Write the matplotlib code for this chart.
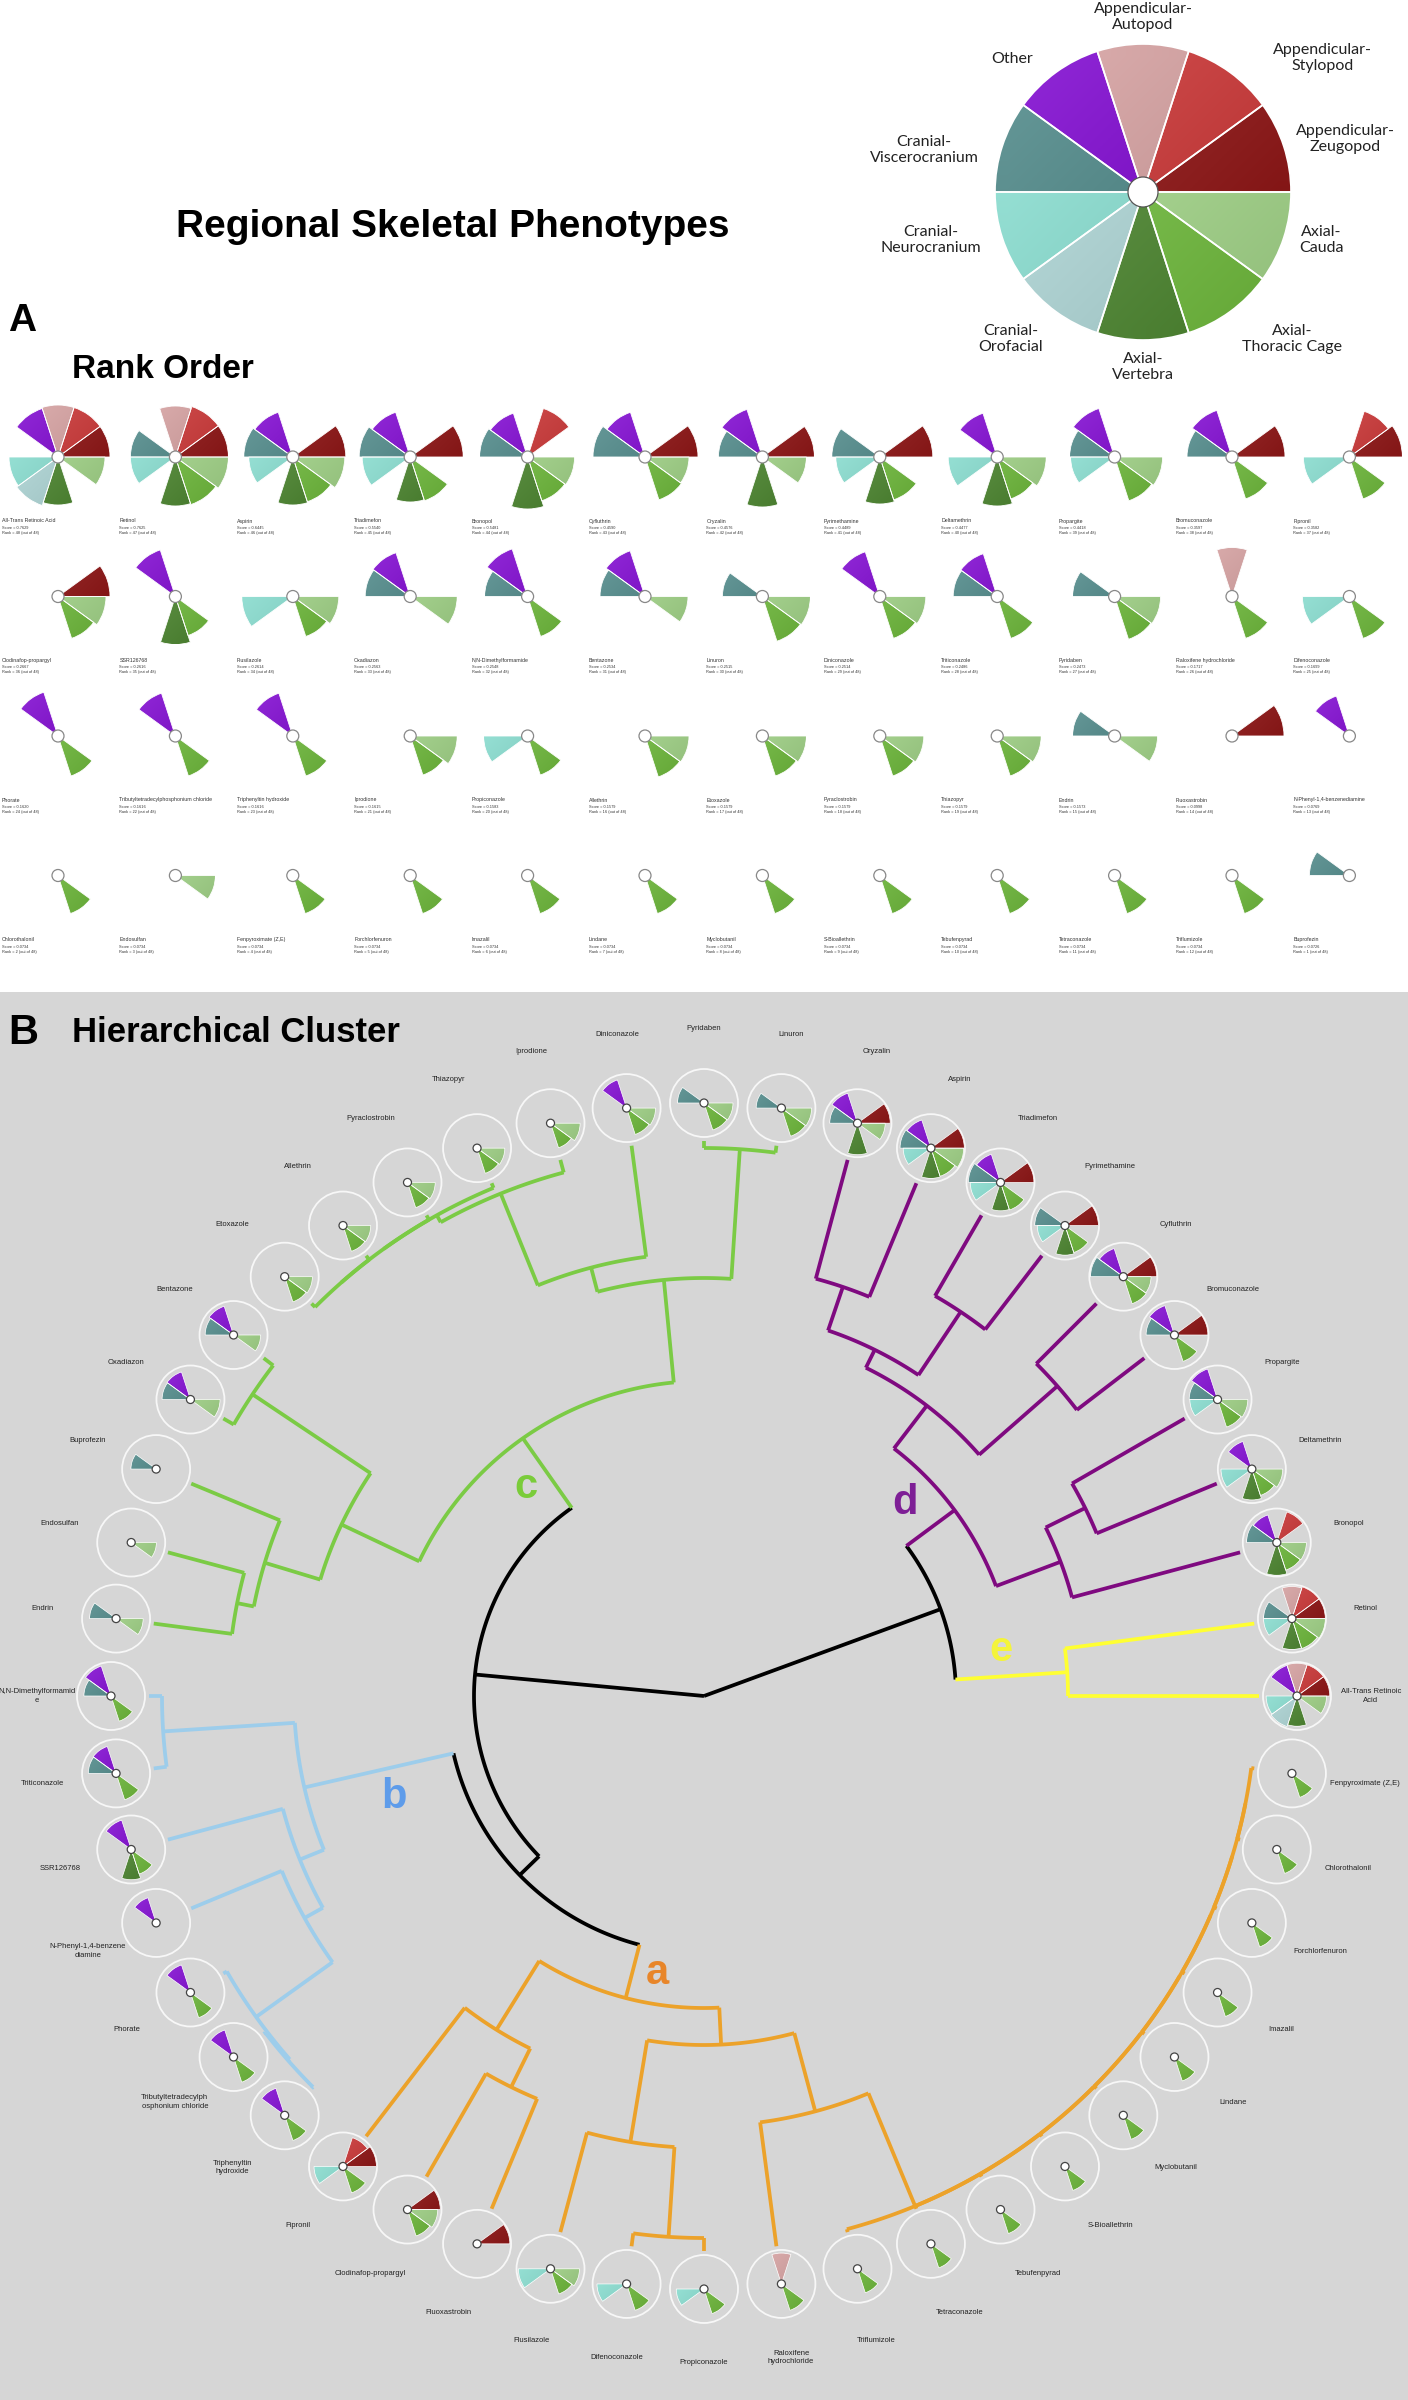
import numpy as np
import matplotlib
matplotlib.use('Agg')
import matplotlib.pyplot as plt
from matplotlib.patches import Wedge, Circle, Rectangle
from matplotlib.colors import to_rgb

plt.rcParams['font.family'] = ['Liberation Sans', 'DejaVu Sans']

# ---- skeletal regions (legend pie, counter-clockwise from 3 o'clock) ----
regions = ['Appendicular-\nZeugopod', 'Appendicular-\nStylopod', 'Appendicular-\nAutopod',
           'Other', 'Cranial-\nViscerocranium', 'Cranial-\nNeurocranium', 'Cranial-\nOrofacial',
           'Axial-\nVertebra', 'Axial-\nThoracic Cage', 'Axial-\nCauda']
region_colors = ['#8E0E0E', '#CD3131', '#D7A0A0', '#7C00D0', '#4A8686',
                 '#8BE3D5', '#B3DCDC', '#4E8A30', '#74C23F', '#A9DD8E']

# ---- panel A: rank order (row major, 4 rows x 12) ----
chemicals = ['All-Trans Retinoic Acid', 'Retinol', 'Aspirin', 'Triadimefon', 'Bronopol', 'Cyfluthrin',
             'Oryzalin', 'Pyrimethamine', 'Deltamethrin', 'Propargite', 'Bromuconazole', 'Fipronil',
             'Clodinafop-propargyl', 'SSR126768', 'Flusilazole', 'Oxadiazon', 'N,N-Dimethylformamide',
             'Bentazone', 'Linuron', 'Diniconazole', 'Triticonazole', 'Pyridaben',
             'Raloxifene hydrochloride', 'Difenoconazole',
             'Phorate', 'Tributyltetradecylphosphonium chloride', 'Triphenyltin hydroxide', 'Iprodione',
             'Propiconazole', 'Allethrin', 'Etoxazole', 'Pyraclostrobin', 'Thiazopyr', 'Endrin',
             'Fluoxastrobin', 'N-Phenyl-1,4-benzenediamine',
             'Chlorothalonil', 'Endosulfan', 'Fenpyroximate (Z,E)', 'Forchlorfenuron', 'Imazalil',
             'Lindane', 'Myclobutanil', 'S-Bioallethrin', 'Tebufenpyrad', 'Tetraconazole',
             'Triflumizole', 'Buprofezin']
scores = [0.7629, 0.7625, 0.6445, 0.5540, 0.5481, 0.4590, 0.4576, 0.4489, 0.4477, 0.4418, 0.3597, 0.3582,
          0.2667, 0.2616, 0.2614, 0.2563, 0.2548, 0.2534, 0.2515, 0.2514, 0.2486, 0.2473, 0.1717, 0.1699,
          0.1620, 0.1616, 0.1616, 0.1615, 0.1583, 0.1579, 0.1579, 0.1579, 0.1579, 0.1573, 0.0998, 0.0769,
          0.0734, 0.0734, 0.0734, 0.0734, 0.0734, 0.0734, 0.0734, 0.0734, 0.0734, 0.0734, 0.0734, 0.0726]
ranks = [48, 47, 46, 45, 44, 43, 42, 41, 40, 39, 38, 37,
         36, 35, 34, 33, 32, 31, 30, 29, 28, 27, 26, 25,
         24, 22, 23, 21, 20, 16, 17, 18, 19, 15, 14, 13,
         2, 3, 4, 5, 6, 7, 8, 9, 10, 11, 12, 1]

# wedge lengths per region (same order as chemicals)
zeugopod = [52, 53, 53, 53, 0, 53, 52, 53, 0, 0, 53, 53,
            52, 0, 0, 0, 0, 0, 0, 0, 0, 0, 0, 0,
            0, 0, 0, 0, 0, 0, 0, 0, 0, 0, 52, 0,
            0, 0, 0, 0, 0, 0, 0, 0, 0, 0, 0, 0]
stylopod = [52, 53, 0, 0, 51, 0, 0, 0, 0, 0, 0, 48,
            0, 0, 0, 0, 0, 0, 0, 0, 0, 0, 0, 0,
            0, 0, 0, 0, 0, 0, 0, 0, 0, 0, 0, 0,
            0, 0, 0, 0, 0, 0, 0, 0, 0, 0, 0, 0]
autopod = [52, 51, 0, 0, 0, 0, 0, 0, 0, 0, 0, 0,
           0, 0, 0, 0, 0, 0, 0, 0, 0, 0, 49, 0,
           0, 0, 0, 0, 0, 0, 0, 0, 0, 0, 0, 0,
           0, 0, 0, 0, 0, 0, 0, 0, 0, 0, 0, 0]
other = [51, 0, 47, 47, 46, 47, 50, 0, 46, 51, 49, 0,
         0, 49, 0, 46, 50, 48, 0, 47, 45, 0, 0, 0,
         46, 45, 45, 0, 0, 0, 0, 0, 0, 0, 0, 42,
         0, 0, 0, 0, 0, 0, 0, 0, 0, 0, 0, 0]
viscerocranium = [0, 45, 49, 51, 48, 52, 44, 48, 0, 45, 45, 0,
                  0, 0, 0, 45, 43, 45, 40, 0, 44, 42, 0, 0,
                  0, 0, 0, 0, 0, 0, 0, 0, 0, 42, 0, 0,
                  0, 0, 0, 0, 0, 0, 0, 0, 0, 0, 0, 40]
neurocranium = [49, 45, 44, 48, 0, 0, 0, 44, 49, 44, 0, 46,
                0, 0, 51, 0, 0, 0, 0, 0, 0, 0, 0, 47,
                0, 0, 0, 0, 44, 0, 0, 0, 0, 0, 0, 0,
                0, 0, 0, 0, 0, 0, 0, 0, 0, 0, 0, 0]
orofacial = [51, 0, 0, 0, 0, 0, 0, 0, 0, 0, 0, 0,
             0, 0, 0, 0, 0, 0, 0, 0, 0, 0, 0, 0,
             0, 0, 0, 0, 0, 0, 0, 0, 0, 0, 0, 0,
             0, 0, 0, 0, 0, 0, 0, 0, 0, 0, 0, 0]
vertebra = [48, 49, 48, 45, 52, 0, 50, 47, 49, 0, 0, 0,
            0, 48, 0, 0, 0, 0, 0, 0, 0, 0, 0, 0,
            0, 0, 0, 0, 0, 0, 0, 0, 0, 0, 0, 0,
            0, 0, 0, 0, 0, 0, 0, 0, 0, 0, 0, 0]
thoracic = [0, 50, 47, 46, 46, 45, 0, 45, 44, 46, 44, 44,
            44, 41, 42, 0, 42, 0, 47, 44, 44, 45, 44, 44,
            42, 42, 42, 41, 41, 43, 42, 42, 42, 0, 0, 0,
            40, 0, 40, 40, 40, 40, 40, 40, 40, 40, 40, 0]
cauda = [47, 53, 52, 0, 47, 44, 44, 0, 49, 48, 0, 0,
         48, 0, 46, 47, 0, 43, 48, 46, 0, 46, 0, 0,
         0, 0, 0, 47, 0, 44, 44, 44, 44, 43, 0, 0,
         0, 40, 0, 0, 0, 0, 0, 0, 0, 0, 0, 0]

# ---- panel B: leaf order (clockwise, starting at Oryzalin) and merges ----
dendro_order = ['Oryzalin', 'Aspirin', 'Triadimefon', 'Pyrimethamine', 'Cyfluthrin', 'Bromuconazole',
                'Propargite', 'Deltamethrin', 'Bronopol', 'Retinol', 'All-Trans Retinoic Acid',
                'Fenpyroximate (Z,E)', 'Chlorothalonil', 'Forchlorfenuron', 'Imazalil', 'Lindane',
                'Myclobutanil', 'S-Bioallethrin', 'Tebufenpyrad', 'Tetraconazole', 'Triflumizole',
                'Raloxifene hydrochloride', 'Propiconazole', 'Difenoconazole', 'Flusilazole',
                'Fluoxastrobin', 'Clodinafop-propargyl', 'Fipronil', 'Triphenyltin hydroxide',
                'Tributyltetradecylphosphonium chloride', 'Phorate', 'N-Phenyl-1,4-benzenediamine',
                'SSR126768', 'Triticonazole', 'N,N-Dimethylformamide', 'Endrin', 'Endosulfan',
                'Buprofezin', 'Oxadiazon', 'Bentazone', 'Etoxazole', 'Allethrin', 'Pyraclostrobin',
                'Thiazopyr', 'Iprodione', 'Diniconazole', 'Pyridaben', 'Linuron']
dendro_labels = {'N,N-Dimethylformamide': 'N,N-Dimethylformamid\ne',
                 'Tributyltetradecylphosphonium chloride': 'Tributyltetradecylph\nosphonium chloride',
                 'Triphenyltin hydroxide': 'Triphenyltin\nhydroxide',
                 'N-Phenyl-1,4-benzenediamine': 'N-Phenyl-1,4-benzene\ndiamine',
                 'All-Trans Retinoic Acid': 'All-Trans Retinoic\nAcid',
                 'Raloxifene hydrochloride': 'Raloxifene\nhydrochloride'}

# (node, child, child, merge radius, cluster)
merges = [
    ('e', 'Retinol', 'All-Trans Retinoic Acid', 364, 'e'),
    ('d1', 'Oryzalin', 'Aspirin', 432, 'd'),
    ('d2', 'Triadimefon', 'Pyrimethamine', 462, 'd'),
    ('d3', 'd1', 'd2', 386, 'd'),
    ('d4', 'Cyfluthrin', 'Bromuconazole', 470, 'd'),
    ('d5', 'd3', 'd4', 366, 'd'),
    ('d6', 'Propargite', 'Deltamethrin', 425, 'd'),
    ('d7', 'd6', 'Bronopol', 381, 'd'),
    ('d', 'd5', 'd7', 312, 'd'),
    ('a1', 'Fenpyroximate (Z,E)', 'Chlorothalonil', 552, 'a'),
    ('a2', 'a1', 'Forchlorfenuron', 552, 'a'),
    ('a3', 'a2', 'Imazalil', 552, 'a'),
    ('a4', 'a3', 'Lindane', 552, 'a'),
    ('a5', 'a4', 'Myclobutanil', 552, 'a'),
    ('a6', 'a5', 'S-Bioallethrin', 552, 'a'),
    ('a7', 'a6', 'Tebufenpyrad', 552, 'a'),
    ('a8', 'a7', 'Tetraconazole', 552, 'a'),
    ('a9', 'a8', 'Triflumizole', 552, 'a'),
    ('a10', 'a9', 'Raloxifene hydrochloride', 430, 'a'),
    ('a11', 'Propiconazole', 'Difenoconazole', 542, 'a'),
    ('a12', 'a11', 'Flusilazole', 452, 'a'),
    ('a13', 'a10', 'a12', 349, 'a'),
    ('a14', 'Fluoxastrobin', 'Clodinafop-propargyl', 436, 'a'),
    ('a15', 'a14', 'Fipronil', 393, 'a'),
    ('a', 'a13', 'a15', 312, 'a'),
    ('b1', 'Triphenyltin hydroxide', 'Tributyltetradecylphosphonium chloride', 553, 'b'),
    ('b2', 'b1', 'Phorate', 551, 'b'),
    ('b3', 'b2', 'N-Phenyl-1,4-benzenediamine', 457, 'b'),
    ('b4', 'b3', 'SSR126768', 436, 'b'),
    ('b5', 'Triticonazole', 'N,N-Dimethylformamide', 542, 'b'),
    ('b', 'b4', 'b5', 410, 'b'),
    ('c1', 'Endrin', 'Endosulfan', 476, 'c'),
    ('c2', 'c1', 'Buprofezin', 459, 'c'),
    ('c3', 'Oxadiazon', 'Bentazone', 543, 'c'),
    ('c4', 'c2', 'c3', 401, 'c'),
    ('c5', 'Etoxazole', 'Allethrin', 550, 'c'),
    ('c6', 'c5', 'Pyraclostrobin', 550, 'c'),
    ('c7', 'c6', 'Thiazopyr', 550, 'c'),
    ('c8', 'c7', 'Iprodione', 542, 'c'),
    ('c9', 'c8', 'Diniconazole', 443, 'c'),
    ('c10', 'Pyridaben', 'Linuron', 548, 'c'),
    ('c11', 'c9', 'c10', 418, 'c'),
    ('c', 'c4', 'c11', 315, 'c'),
    ('X', 'b', 'a', 257, 'root'),
    ('L', 'c', 'X', 230, 'root'),
    ('R', 'd', 'e', 252, 'root'),
    ('root', 'L', 'R', 0, 'root'),
]
line_colors = {'a': '#ECA22A', 'b': '#9DCDEB', 'c': '#7BCB45', 'd': '#7F0A80', 'e': '#FFFF33', 'root': 'black'}
letter_colors = {'a': '#E8862A', 'b': '#5E9CEA', 'c': '#7ACC3A', 'd': '#7E1F96', 'e': '#F4F43A'}
letter_pos = {'a': (657, 1973), 'b': (394, 1797), 'c': (526, 1487), 'd': (905, 1503), 'e': (1001, 1650)}

profiles = np.array([zeugopod, stylopod, autopod, other, viscerocranium, neurocranium,
                     orofacial, vertebra, thoracic, cauda], dtype=float).T


def shade_grid(col, n=12):
    # light at top-left, darker toward bottom-right
    base = np.array(to_rgb(col))
    light = base + (1 - base) * 0.16
    dark = base * 0.86
    t = (np.linspace(0, 1, n)[:, None] + np.linspace(0, 1, n)[None, :]) / 2
    return light[None, None, :] * (1 - t[..., None]) + dark[None, None, :] * t[..., None]


def draw_glyph(ax, cx, cy, radii, scale, hole_r, hole_ec, edge_lw):
    for k, r in enumerate(radii):
        if r <= 0:
            continue
        t1 = 36 * k
        rr = r * scale
        # y axis is flipped, so visual angles are negated
        w = Wedge((cx, cy), rr, -(t1 + 36), -t1, facecolor='none',
                  edgecolor='white', linewidth=edge_lw, zorder=3.2)
        ax.add_patch(w)
        im = ax.imshow(shade_grid(region_colors[k]), extent=(cx - rr, cx + rr, cy - rr, cy + rr),
                       origin='lower', interpolation='bilinear', aspect='auto', zorder=3)
        im.set_clip_path(w)
    ax.add_patch(Circle((cx, cy), hole_r, facecolor='white', edgecolor=hole_ec,
                        linewidth=0.9, zorder=4))


fig = plt.figure(figsize=(14.08, 24), dpi=100)
ax = fig.add_axes([0, 0, 1, 1])
ax.axis('off')

# ---- header + legend pie ----
ax.text(453, 227, 'Regional Skeletal Phenotypes', fontsize=28, fontweight='bold',
        ha='center', va='center')
pie_c, pie_r = (1143, 192), 148
draw_glyph(ax, pie_c[0], pie_c[1], [pie_r] * 10, 1.0, 15, '#555555', 1.2)
label_angles = [14.7, 36.8, 90, 134.6, 169.1, 192.7, 228, 270, 315.4, 345]
label_radii = [209, 224, 175, 187, 223, 218, 198, 175, 209, 185]
for name, ang, rad in zip(regions, label_angles, label_radii):
    lx = pie_c[0] + rad * np.cos(np.radians(ang))
    ly = pie_c[1] - rad * np.sin(np.radians(ang))
    ax.text(lx, ly, name, fontsize=11.5, family=['Lato', 'DejaVu Sans'], color='#222222',
            ha='center', va='center', linespacing=1.15, zorder=6)

# ---- panel A ----
ax.text(8, 321, 'A', fontsize=28, fontweight='bold', ha='left', va='center')
ax.text(72, 370, 'Rank Order', fontsize=24, fontweight='bold', ha='left', va='center')
for i, name in enumerate(chemicals):
    row, col = divmod(i, 12)
    cx = 58 + 117.4 * col
    cy = 457 + 139.5 * row
    draw_glyph(ax, cx, cy, profiles[i], 1.0, 6, '#888888', 0.6)
    ax.text(cx - 56, cy + 64, name, fontsize=3.8, color='#333333', ha='left', va='center')
    ax.text(cx - 56, cy + 71, 'Score = %.4f' % scores[i], fontsize=2.8, color='#333333',
            ha='left', va='center')
    ax.text(cx - 56, cy + 76, 'Rank = %d (out of 48)' % ranks[i], fontsize=2.8, color='#333333',
            ha='left', va='center')

# ---- panel B ----
ax.add_patch(Rectangle((0, 992), 1408, 1408, facecolor='#D6D6D6', edgecolor='none', zorder=0))
ax.text(8, 1033, 'B', fontsize=30, fontweight='bold', ha='left', va='center')
ax.text(72, 1033, 'Hierarchical Cluster', fontsize=25, fontweight='bold', ha='left', va='center')

dc = (704, 1696)
leaf_r, ring_r, text_r = 555, 593, 667
angle = {n: 75 - 7.5 * i for i, n in enumerate(dendro_order)}
radius = {n: leaf_r for n in dendro_order}
color = {}
for node, c1, c2, r, cl in merges:
    angle[node] = (angle[c1] + angle[c2]) / 2
    radius[node] = r
    color[node] = line_colors[cl]
for node, c1, c2, r, cl in merges:
    for ch in (c1, c2):
        color.setdefault(ch, line_colors[cl])


def polar(r, a):
    return dc[0] + r * np.cos(np.radians(a)), dc[1] - r * np.sin(np.radians(a))


for node, c1, c2, r, cl in merges:
    a = np.linspace(angle[c1], angle[c2], 120)
    xs, ys = polar(r, a)
    ax.plot(xs, ys, color=color[node], lw=2.7, solid_capstyle='butt', zorder=2)
    for ch in (c1, c2):
        x0, y0 = polar(r, angle[ch])
        x1, y1 = polar(radius[ch], angle[ch])
        ax.plot([x0, x1], [y0, y1], color=color[ch], lw=2.7, solid_capstyle='butt', zorder=2)

for cl, (lx, ly) in letter_pos.items():
    ax.text(lx, ly, cl, fontsize=30, fontweight='bold', color=letter_colors[cl],
            ha='center', va='center', zorder=5)

for n in dendro_order:
    gx, gy = polar(ring_r, angle[n])
    ax.add_patch(Circle((gx, gy), 34, facecolor='none', edgecolor='#F7F7F7', linewidth=1.3, zorder=3))
    draw_glyph(ax, gx, gy, profiles[chemicals.index(n)], 0.63, 4, '#444444', 0.5)
    tx, ty = polar(text_r, angle[n])
    ax.text(tx, ty, dendro_labels.get(n, n), fontsize=5.5, color='#222222',
            ha='center', va='center', linespacing=1.3)

ax.set_xlim(0, 1408)
ax.set_ylim(2400, 0)
fig.savefig('out.png', dpi=100)
